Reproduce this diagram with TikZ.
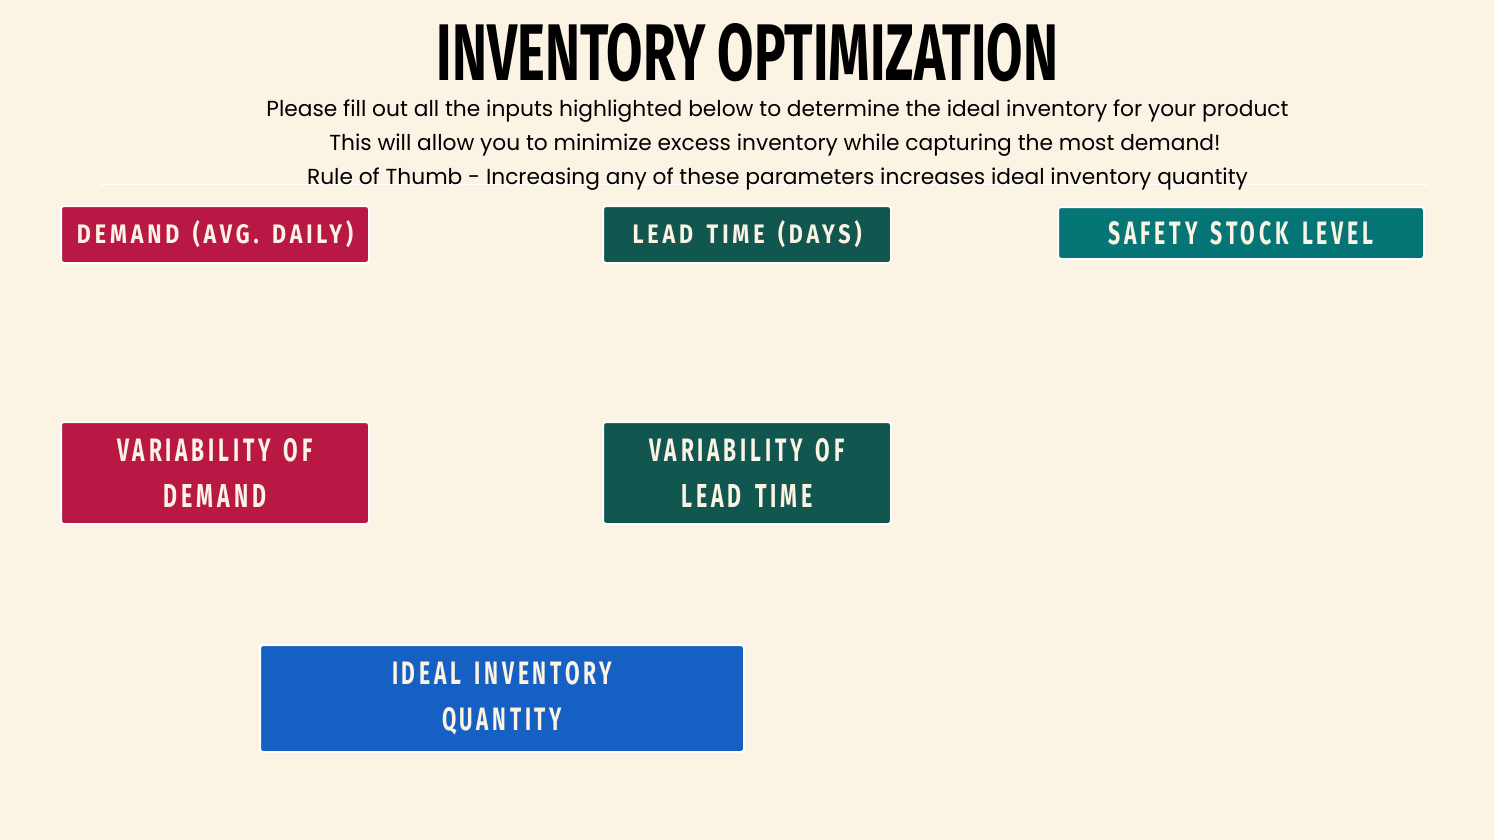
\documentclass[tikz,border=0pt]{standalone}
\usepackage{fontspec}
\usepackage{graphicx}
\setmainfont{Poppins}
\newfontfamily\labelfont[LetterSpace=18,WordSpace=1.5]{Fira Sans}
\newfontfamily\titlefont{Fira Sans}
\definecolor{bgcream}{HTML}{FBF3E4}
\definecolor{boxred}{HTML}{B91845}
\definecolor{boxgreen}{HTML}{12574F}
\definecolor{boxteal}{HTML}{057576}
\definecolor{boxblue}{HTML}{1760C3}
\newcommand{\lbl}[2]{\resizebox{#1pt}{23pt}{\labelfont\bfseries #2}}
\tikzset{
  inbox/.style={draw=white, line width=2pt, rounded corners=3pt, inner sep=0pt,
    text=bgcream, align=center, font=\fontsize{20}{46}\selectfont},
  subline/.style={anchor=base, inner sep=0pt, font=\fontsize{21.75}{26}\selectfont, text=black}
}
\begin{document}
\begin{tikzpicture}[x=1pt,y=-1pt]
\fill[bgcream] (0,0) rectangle (1494,840);
\useasboundingbox (0,0) rectangle (1494,840);

\coordinate (ruleL) at (100,184);
\coordinate (ruleR) at (1428,184);
\draw[white, line width=1pt] (ruleL) -- (ruleR);

\node[inner sep=0pt] (title) at (747.5,52.5) {\resizebox{621pt}{57pt}{\titlefont\bfseries INVENTORY OPTIMIZATION}};

\node[subline] (s1) at (777.5,117) {Please fill out all the inputs highlighted below to determine the ideal inventory for your product};
\node[subline] (s2) at (775,151) {This will allow you to minimize excess inventory while capturing the most demand!};
\node[subline] (s3) at (777.5,185) {Rule of Thumb - Increasing any of these parameters increases ideal inventory quantity};

\node[inbox, fill=boxred, minimum width=308pt, minimum height=57pt] (demand) at (215,234.5) {\lbl{276}{DEMAND (AVG. DAILY)}};
\node[inbox, fill=boxgreen, minimum width=288pt, minimum height=57pt] (lead) at (747,234.5) {\lbl{229}{LEAD TIME (DAYS)}};
\node[inbox, fill=boxteal, minimum width=366pt, minimum height=52pt] (safety) at (1241,233) {\lbl{265}{SAFETY STOCK LEVEL}};
\node[inbox, fill=boxred, minimum width=308pt, minimum height=102pt] (vardem) at (215,473) {\lbl{195}{VARIABILITY OF}\\\lbl{102}{DEMAND}};
\node[inbox, fill=boxgreen, minimum width=288pt, minimum height=102pt] (varlead) at (747,473) {\lbl{195}{VARIABILITY OF}\\\lbl{131}{LEAD TIME}};
\node[inbox, fill=boxblue, minimum width=484pt, minimum height=107pt] (ideal) at (502,698.5) {\lbl{220}{IDEAL INVENTORY}\\\lbl{120}{QUANTITY}};
\end{tikzpicture}
\end{document}
